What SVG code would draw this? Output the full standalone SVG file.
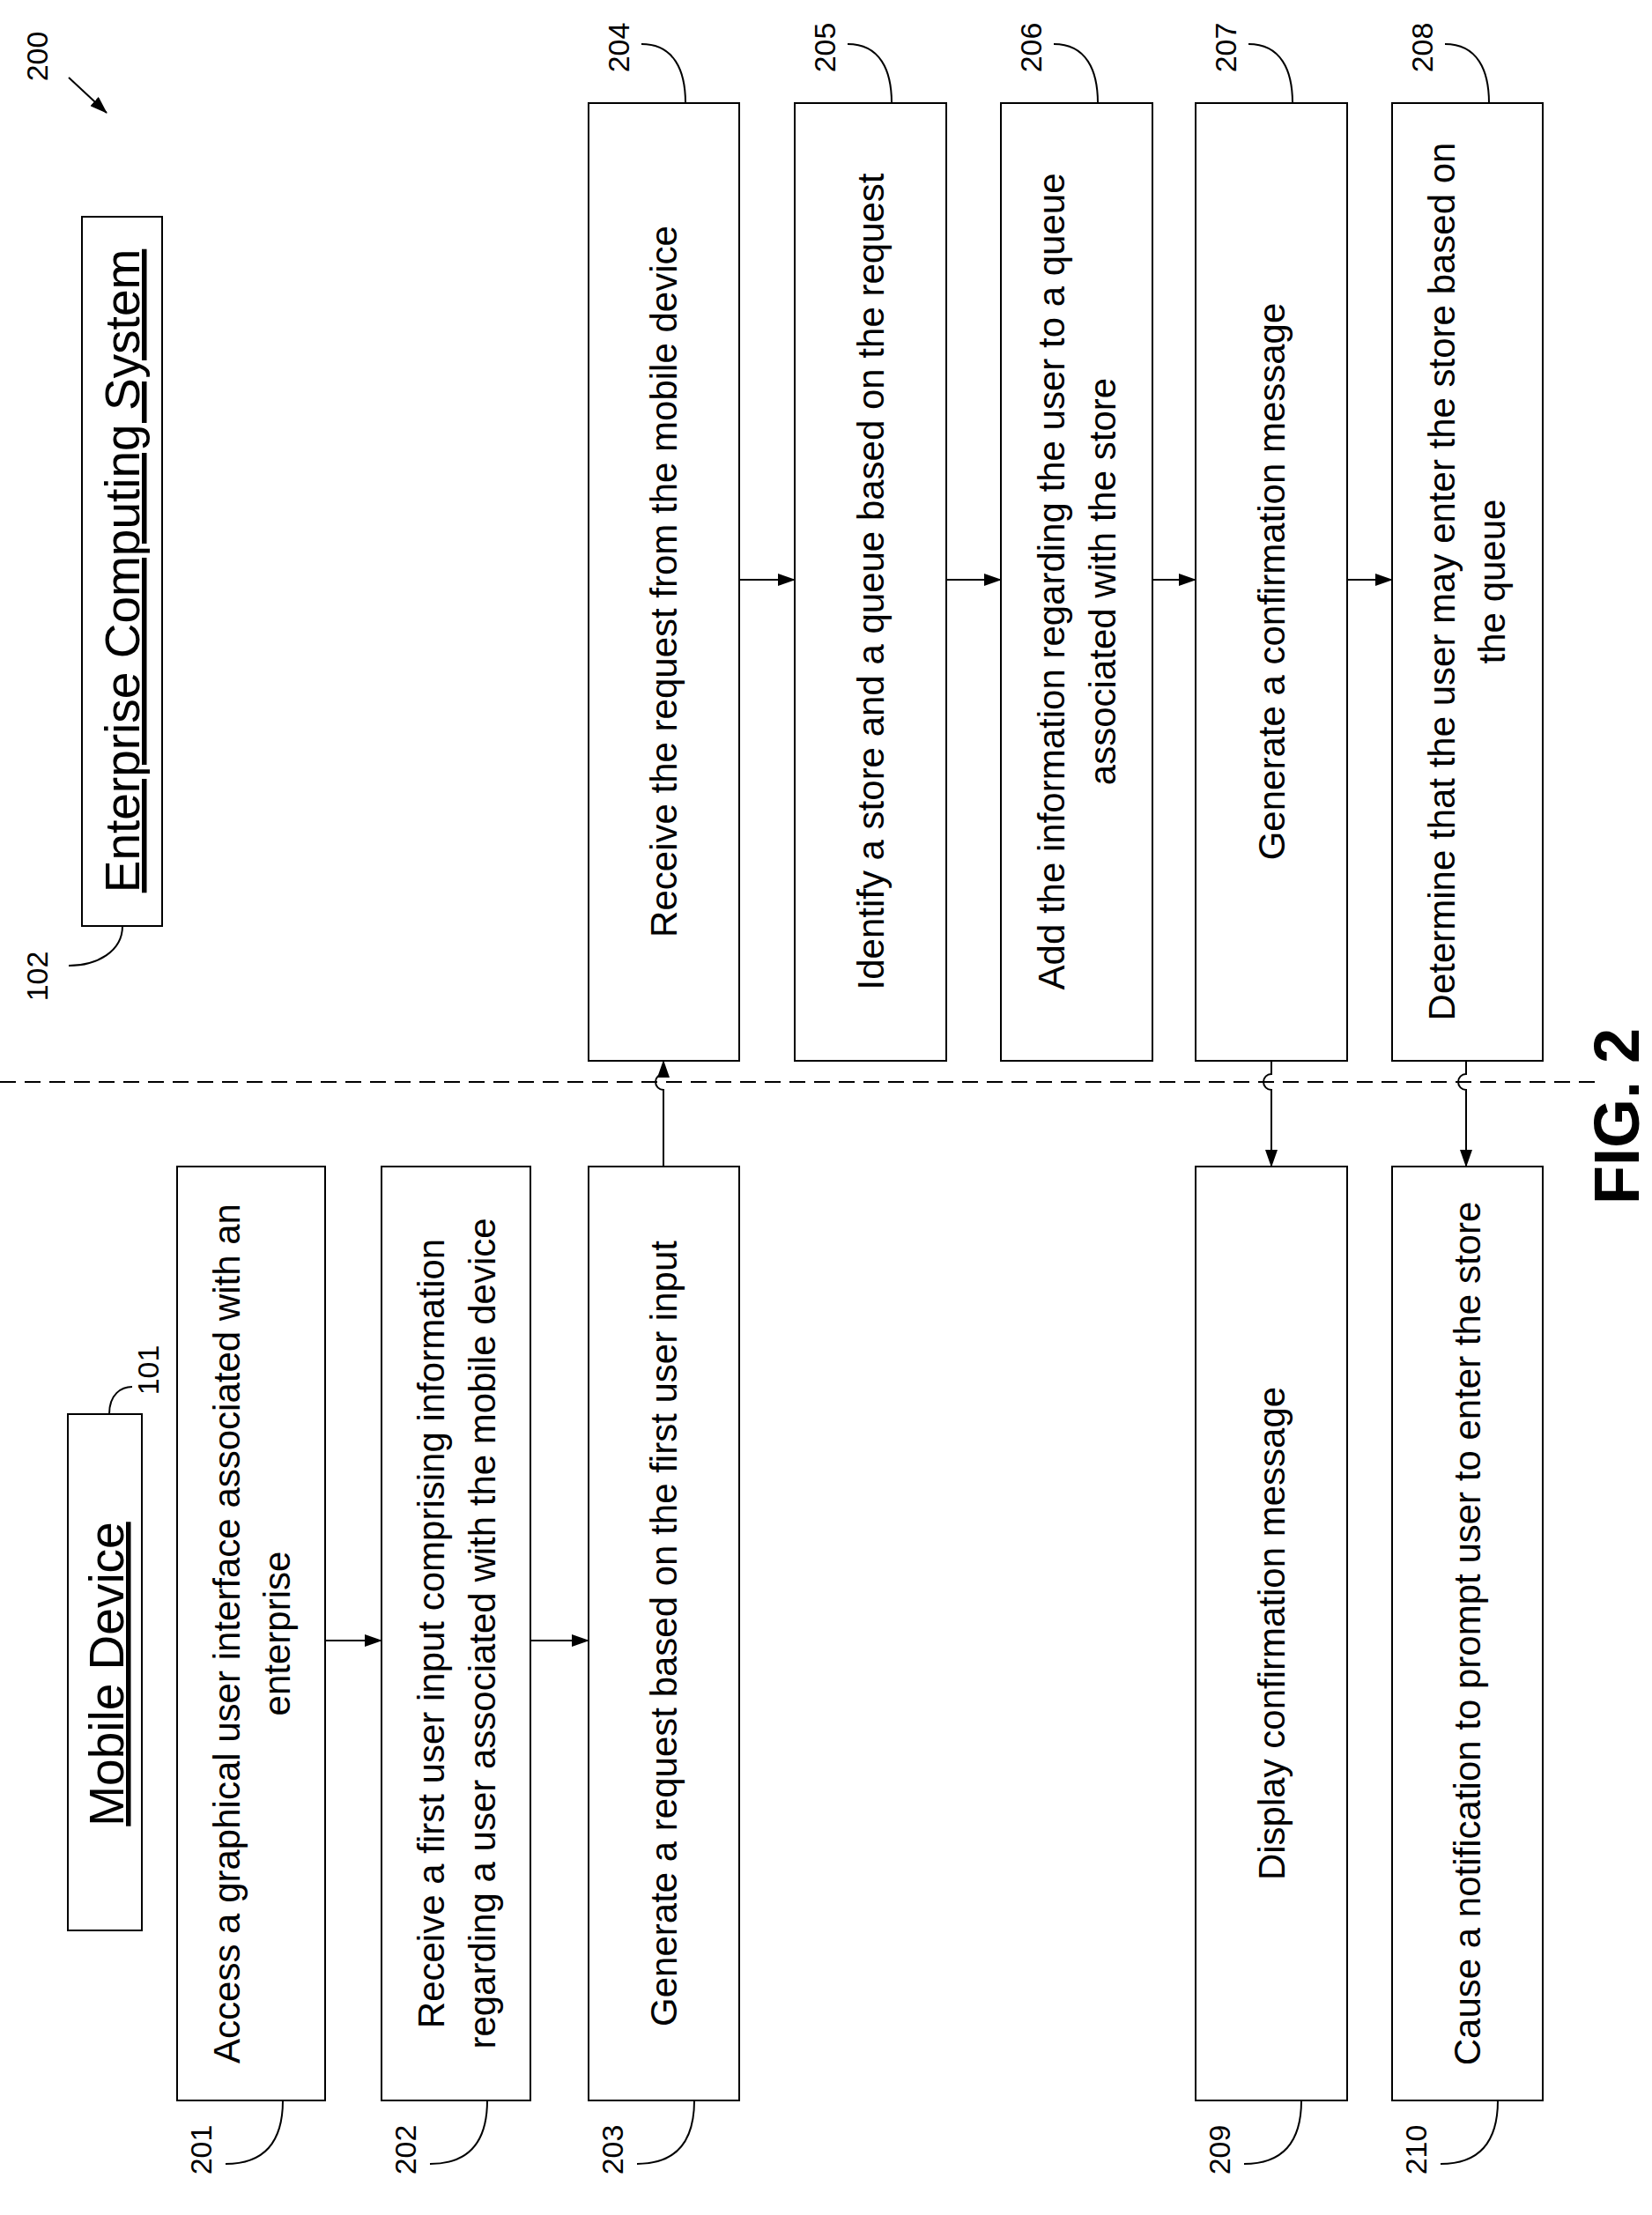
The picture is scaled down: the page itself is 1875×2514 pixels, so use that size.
<svg xmlns="http://www.w3.org/2000/svg" width="1875" height="2514" viewBox="0 0 1875 2514">
<style>
.b{fill:#fff;stroke:#000;stroke-width:2}
.t{font-family:"Liberation Sans",Arial,sans-serif;font-size:42px;text-anchor:middle;dominant-baseline:central;fill:#000}
.h{font-family:"Liberation Sans",Arial,sans-serif;font-size:55px;text-anchor:middle;fill:#000;text-decoration:underline}
.l{font-family:"Liberation Sans",Arial,sans-serif;font-size:34px;text-anchor:middle;dominant-baseline:central;fill:#000}
.c{fill:none;stroke:#000;stroke-width:2}
</style>
<defs><marker id="a" markerWidth="20" markerHeight="14" refX="19" refY="7" orient="auto" markerUnits="userSpaceOnUse"><path d="M0,0 L20,7 L0,14 Z" fill="#000"/></marker></defs>
<rect width="1875" height="2514" fill="#fff"/>
<g id="ref200"><text class="l" transform="translate(42,64) rotate(-90)">200</text><line class="c" x1="78" y1="88" x2="121" y2="128" marker-end="url(#a)"/></g>
<g id="n102"><rect class="b" x="93" y="246" width="91" height="805"/><text class="h" transform="translate(158,648) rotate(-90)">Enterprise Computing System</text><text class="l" transform="translate(42,1108) rotate(-90)">102</text><path class="c" d="M78,1096 C110,1096 139,1080 139,1051"/></g>
<g id="n101"><rect class="b" x="77" y="1605" width="84" height="586"/><text class="h" transform="translate(140,1900) rotate(-90)">Mobile Device</text><text class="l" transform="translate(168,1555) rotate(-90)">101</text><path class="c" d="M124,1605 C124,1582 138,1574 150,1574"/></g>
<g id="n201"><rect class="b" x="201" y="1324" width="168" height="1060"/><text class="t" transform="translate(257,1854) rotate(-90)">Access a graphical user interface associated with an</text><text class="t" transform="translate(314,1854) rotate(-90)">enterprise</text><text class="l" transform="translate(228,2440) rotate(-90)">201</text><path class="c" d="M256,2456 C301,2456 321,2430 321,2384"/></g>
<g id="n202"><rect class="b" x="433" y="1324" width="169" height="1060"/><text class="t" transform="translate(489,1854) rotate(-90)">Receive a first user input comprising information</text><text class="t" transform="translate(547,1854) rotate(-90)">regarding a user associated with the mobile device</text><text class="l" transform="translate(460,2440) rotate(-90)">202</text><path class="c" d="M488,2456 C533,2456 553,2430 553,2384"/></g>
<g id="n203"><rect class="b" x="668" y="1324" width="171" height="1060"/><text class="t" transform="translate(753,1854) rotate(-90)">Generate a request based on the first user input</text><text class="l" transform="translate(695,2440) rotate(-90)">203</text><path class="c" d="M723,2456 C768,2456 788,2430 788,2384"/></g>
<g id="n209"><rect class="b" x="1357" y="1324" width="172" height="1060"/><text class="t" transform="translate(1443,1854) rotate(-90)">Display confirmation message</text><text class="l" transform="translate(1384,2440) rotate(-90)">209</text><path class="c" d="M1412,2456 C1457,2456 1477,2430 1477,2384"/></g>
<g id="n210"><rect class="b" x="1580" y="1324" width="171" height="1060"/><text class="t" transform="translate(1665,1854) rotate(-90)">Cause a notification to prompt user to enter the store</text><text class="l" transform="translate(1607,2440) rotate(-90)">210</text><path class="c" d="M1635,2456 C1680,2456 1700,2430 1700,2384"/></g>
<g id="n204"><rect class="b" x="668" y="117" width="171" height="1087"/><text class="t" transform="translate(753,660) rotate(-90)">Receive the request from the mobile device</text><text class="l" transform="translate(702,54) rotate(-90)">204</text><path class="c" d="M728,50 C765,50 778,80 778,117"/></g>
<g id="n205"><rect class="b" x="902" y="117" width="172" height="1087"/><text class="t" transform="translate(988,660) rotate(-90)">Identify a store and a queue based on the request</text><text class="l" transform="translate(936,54) rotate(-90)">205</text><path class="c" d="M962,50 C999,50 1012,80 1012,117"/></g>
<g id="n206"><rect class="b" x="1136" y="117" width="172" height="1087"/><text class="t" transform="translate(1193,660) rotate(-90)">Add the information regarding the user to a queue</text><text class="t" transform="translate(1251,660) rotate(-90)">associated with the store</text><text class="l" transform="translate(1170,54) rotate(-90)">206</text><path class="c" d="M1196,50 C1233,50 1246,80 1246,117"/></g>
<g id="n207"><rect class="b" x="1357" y="117" width="172" height="1087"/><text class="t" transform="translate(1443,660) rotate(-90)">Generate a confirmation message</text><text class="l" transform="translate(1391,54) rotate(-90)">207</text><path class="c" d="M1417,50 C1454,50 1467,80 1467,117"/></g>
<g id="n208"><rect class="b" x="1580" y="117" width="171" height="1087"/><text class="t" transform="translate(1636,660) rotate(-90)">Determine that the user may enter the store based on</text><text class="t" transform="translate(1693,660) rotate(-90)">the queue</text><text class="l" transform="translate(1614,54) rotate(-90)">208</text><path class="c" d="M1640,50 C1677,50 1690,80 1690,117"/></g>
<g id="connectors">
<line x1="0" y1="1228" x2="1815" y2="1228" stroke="#000" stroke-width="2" stroke-dasharray="18,10"/>
<line class="c" x1="369" y1="1862" x2="433" y2="1862" marker-end="url(#a)"/>
<line class="c" x1="602" y1="1862" x2="668" y2="1862" marker-end="url(#a)"/>
<line class="c" x1="839" y1="658" x2="902" y2="658" marker-end="url(#a)"/>
<line class="c" x1="1074" y1="658" x2="1136" y2="658" marker-end="url(#a)"/>
<line class="c" x1="1308" y1="658" x2="1357" y2="658" marker-end="url(#a)"/>
<line class="c" x1="1529" y1="658" x2="1580" y2="658" marker-end="url(#a)"/>
<path class="c" d="M753,1324 V1237 A9,9 0 0,1 753,1219 V1204" marker-end="url(#a)"/>
<path class="c" d="M1443,1204 V1219 A9,9 0 0,0 1443,1237 V1324" marker-end="url(#a)"/>
<path class="c" d="M1664,1204 V1219 A9,9 0 0,0 1664,1237 V1324" marker-end="url(#a)"/>
</g>
<text transform="translate(1860,1267) rotate(-90)" font-family="Liberation Sans,Arial,sans-serif" font-size="72" font-weight="bold" text-anchor="middle">FIG. 2</text>
</svg>
